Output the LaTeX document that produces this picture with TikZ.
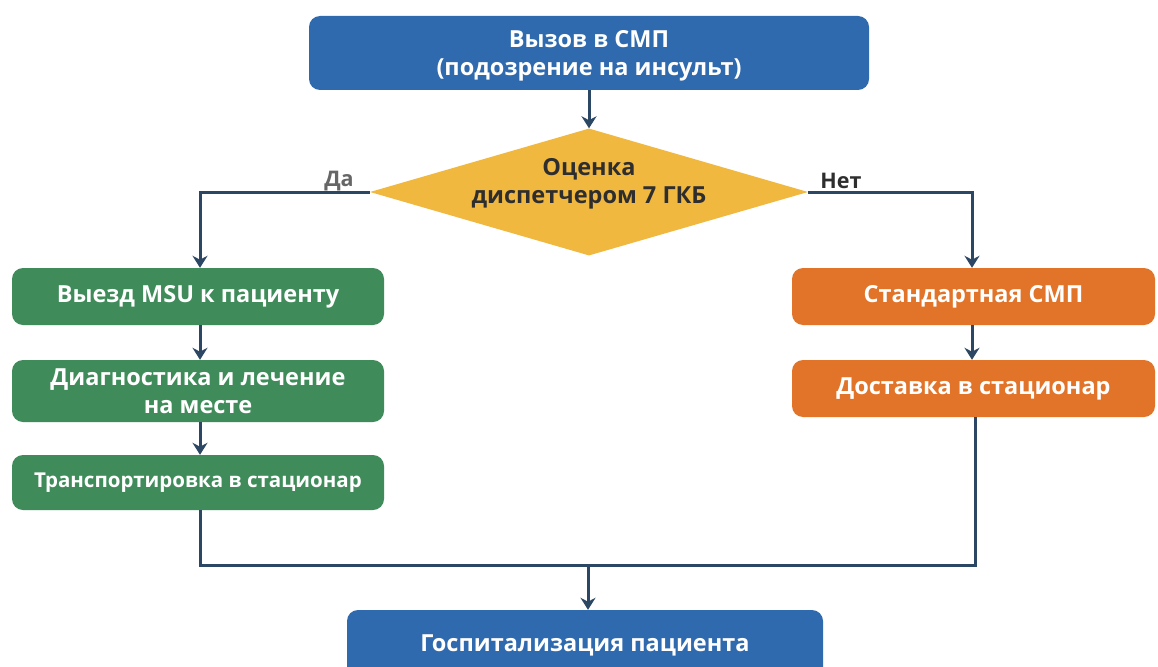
\documentclass[tikz,border=0pt]{standalone}
\usepackage{fontspec}
\setmainfont{Open Sans}
\usetikzlibrary{shapes.geometric,arrows.meta}
\definecolor{cblue}{HTML}{2F6AAE}
\definecolor{cgreen}{HTML}{3F8C5A}
\definecolor{corange}{HTML}{E2742A}
\definecolor{cyellow}{HTML}{F1B840}
\definecolor{cline}{HTML}{2C4763}
\definecolor{ctext}{HTML}{2E2E2E}
\begin{document}
\begin{tikzpicture}[x=1pt,y=-1pt,
  box/.style={rounded corners=11pt, inner sep=0pt, text=white, font=\fontsize{23.5}{28}\selectfont\bfseries, align=center},
  bluebox/.style={box, fill=cblue},
  greenbox/.style={box, fill=cgreen, minimum width=372pt},
  orangebox/.style={box, fill=corange, minimum width=363pt},
  decision/.style={diamond, fill=cyellow, inner sep=0pt, aspect=3.45, minimum width=438pt, minimum height=127pt, text=ctext, font=\fontsize{23.5}{28}\selectfont\bfseries, align=center},
  conn/.style={draw=cline, line width=3pt},
  arr/.style={conn, -{Stealth[length=12pt,width=15pt]}},
  lbl/.style={font=\fontsize{21.5}{24}\selectfont\bfseries}
]
\useasboundingbox (0,0) rectangle (1158,666);
\clip (0,0) rectangle (1158,666);
\fill[white] (0,0) rectangle (1158,666);

\node[bluebox, minimum width=560pt, minimum height=74pt] (call) at (589,53) {\raisebox{-3pt}[\height][\depth]{\begin{tabular}{@{}c@{}}Вызов в СМП\\(подозрение на инсульт)\end{tabular}}};
\node[decision] (dec) at (589,192) {\raisebox{8pt}[\height][\depth]{\begin{tabular}{@{}c@{}}Оценка\\диспетчером 7 ГКБ\end{tabular}}};

\node[greenbox, minimum height=57pt] (g1) at (198,296.5) {Выезд MSU к пациенту};
\node[greenbox, minimum height=62pt] (g2) at (198,391) {Диагностика и лечение\\на месте};
\node[greenbox, minimum height=55pt, font=\fontsize{20.5}{24}\selectfont\bfseries] (g3) at (198,482.5) {Транспортировка в стационар};

\node[orangebox, minimum height=57pt] (o1) at (973.5,296.5) {Стандартная СМП};
\node[orangebox, minimum height=57pt] (o2) at (973.5,388.5) {Доставка в стационар};

\node[bluebox, minimum width=476pt, minimum height=70pt] (hosp) at (585,645) {Госпитализация пациента};

\draw[arr] (call.south) -- (dec.north);
\draw[arr] (dec.west) -| (g1.north -| 200,0);
\draw[arr] (dec.east) -| (o1.north -| 972,0);
\node[lbl, text=black!60] (yes) at (339,181) {Да};
\node[lbl, text=ctext] (no) at (841,181) {Нет};

\draw[arr] (g1.south -| 200,0) -- (g2.north -| 200,0);
\draw[arr] (g2.south -| 200,0) -- (g3.north -| 200,0);
\draw[arr] (o1.south -| 972,0) -- (o2.north -| 972,0);

\coordinate (jl) at (200,565);
\coordinate (jr) at (975,565);
\coordinate (jm) at (588,565);
\draw[conn] (g3.south -| 200,0) -- (jl) -- (jr) -- (o2.south -| 975,0);
\draw[arr] (jm) -- (hosp.north -| 588,0);
\end{tikzpicture}
\end{document}
